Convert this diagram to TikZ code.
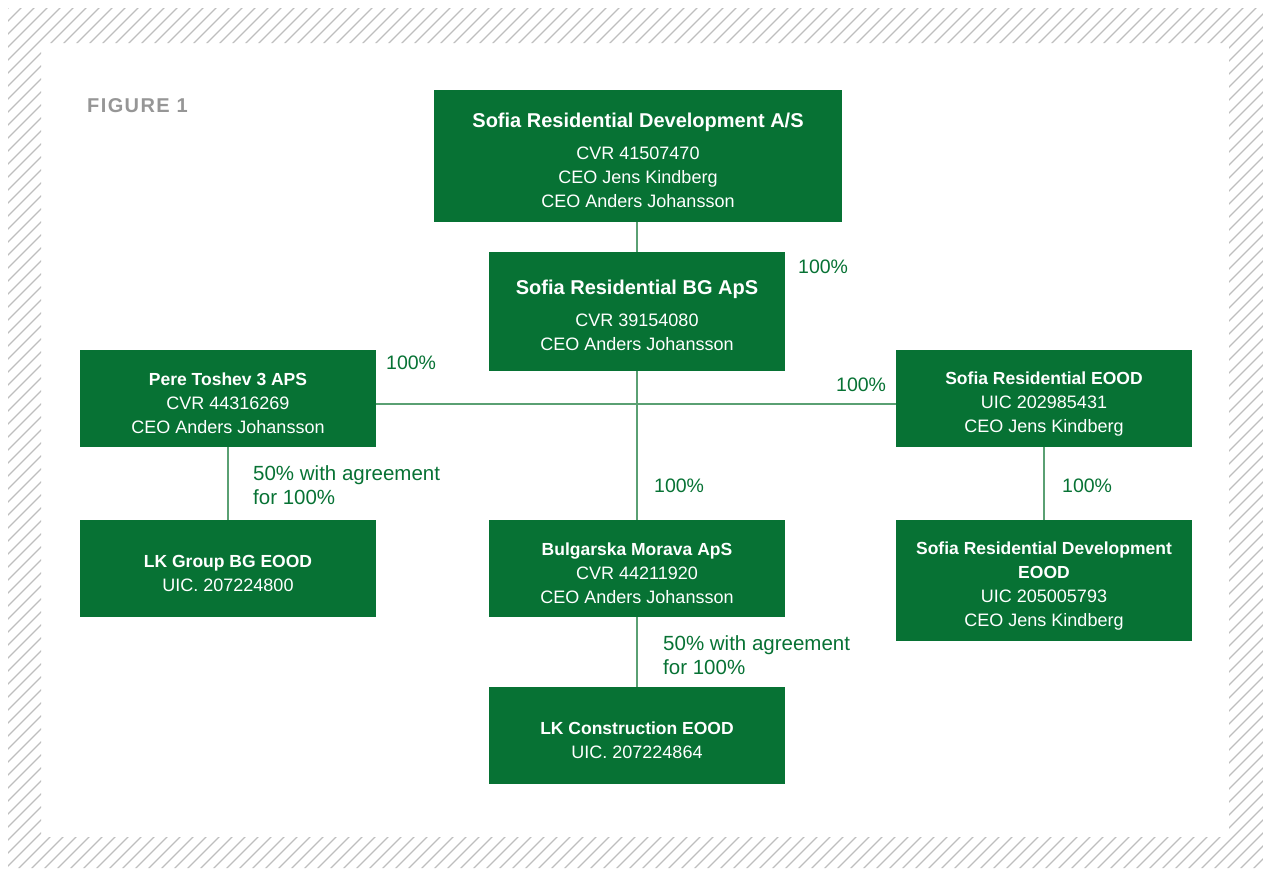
\documentclass[tikz,border=0pt]{standalone}
\usepackage{fontspec}
\setmainfont{Liberation Sans}
\usetikzlibrary{positioning}
\definecolor{cGreen}{RGB}{7,114,52}
\definecolor{cLink}{RGB}{90,160,115}
\definecolor{cHatch}{RGB}{190,190,190}
\definecolor{cFigure}{RGB}{150,150,150}
% first line of a company box (bold name)
\newcommand{\coname}[2][17.5]{{\fontsize{#1}{24}\selectfont\bfseries\rule{0pt}{23pt}#2}}

\begin{document}
\begin{tikzpicture}[x=1pt, y=-1pt,
    entity/.style={fill=cGreen, text=white, align=center, inner sep=0pt,
      minimum width=296pt, minimum height=97pt, font=\fontsize{18}{24}\selectfont},
    link/.style={draw=cLink, line width=2pt},
    share/.style={text=cGreen, anchor=west, align=left, inner sep=0pt,
      font=\fontsize{19.5}{24}\selectfont}]
  \useasboundingbox (0,0) rectangle (1263,868);
  % Hatched frame
  \begin{scope}[even odd rule]
    \clip (8,8) rectangle (1263,868) (41,43) rectangle (1229,837);
    \foreach \x in {-880,-867,...,1270}
      \draw[cHatch, line width=1.3pt] (\x,870) -- ++(880,-880);
  \end{scope}
  \node[text=cFigure, anchor=west, inner sep=0pt,
    font=\fontsize{20}{24}\selectfont\bfseries\addfontfeatures{LetterSpace=7}] (fig) at (87,106) {FIGURE 1};
  % Companies
  \node[entity, minimum width=408pt, minimum height=132pt] (sfa) at (638,156)
    {\coname[20]{Sofia Residential Development A/S}\\[8pt]
     CVR 41507470\\ CEO Jens Kindberg\\ CEO Anders Johansson};
  \node[entity, minimum height=119pt] (bg) at (637,311.5)
    {\coname[20]{Sofia Residential BG ApS}\\[8pt]
     CVR 39154080\\ CEO Anders Johansson};
  \node[entity] (pt) at (228,398.5)
    {\coname{Pere Toshev 3 APS}\\ CVR 44316269\\ CEO Anders Johansson};
  \node[entity] (eood) at (1044,398.5)
    {\coname{Sofia Residential EOOD}\\ UIC 202985431\\ CEO Jens Kindberg};
  \node[entity] (lkg) at (228,568.5)
    {\coname{LK Group BG EOOD}\\ UIC. 207224800};
  \node[entity] (mor) at (637,568.5)
    {\coname{Bulgarska Morava ApS}\\ CVR 44211920\\ CEO Anders Johansson};
  \node[entity, minimum height=121pt] (srd) at (1044,580.5)
    {\coname{Sofia Residential Development}\\
     {\fontsize{17.5}{24}\selectfont\bfseries EOOD}\\ UIC 205005793\\ CEO Jens Kindberg};
  \node[entity] (lkc) at (637,735.5)
    {\coname{LK Construction EOOD}\\ UIC. 207224864};
  % Ownership lines
  \coordinate (hub) at (637,404);
  \draw[link] (bg.north |- sfa.south) -- (bg.north);
  \draw[link] (bg.south) -- (mor.north);
  \draw[link] (pt.east |- hub) -- (eood.west |- hub);
  \draw[link] (pt.south) -- (lkg.north);
  \draw[link] (eood.south) -- (srd.north);
  \draw[link] (mor.south) -- (lkc.north);
  % Shares
  \node[share] (s1) at (798,267) {100\%};
  \node[share] (s2) at (386,363) {100\%};
  \node[share] (s3) at (836,385) {100\%};
  \node[share] (s4) at (654,486) {100\%};
  \node[share] (s5) at (1062,486) {100\%};
  \node[share, font=\fontsize{20.5}{24}\selectfont] (s6) at (253,485) {50\% with agreement\\ for 100\%};
  \node[share, font=\fontsize{20.5}{24}\selectfont] (s7) at (663,655) {50\% with agreement\\ for 100\%};
\end{tikzpicture}
\end{document}
